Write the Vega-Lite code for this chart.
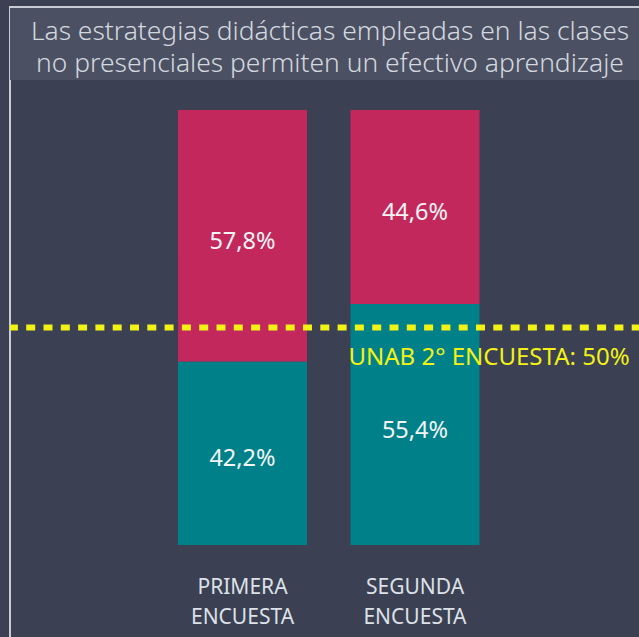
{
  "$schema": "https://vega.github.io/schema/vega-lite/v6.json",
  "autosize": {"type": "none"},
  "width": 640,
  "height": 640,
  "padding": {"left": 10, "top": 7, "right": 0, "bottom": 0},
  "background": "#3b4052",
  "config": {
    "view": {"stroke": "#c9ccd3", "strokeWidth": 2},
    "font": "Noto Sans"
  },
  "title": {
    "text": ["Las estrategias didácticas empleadas en las clases", "no presenciales permiten un efectivo aprendizaje"],
    "fontSize": 26.4,
    "fontWeight": 300,
    "color": "#d4d8df",
    "anchor": "middle",
    "frame": "group",
    "orient": "top",
    "offset": 0,
    "baseline": "alphabetic",
    "lineHeight": 32,
    "dy": 91
  },
  "data": {
    "values": [
      {"encuesta": "PRIMERA ENCUESTA", "serie": "De acuerdo", "orden": 1, "v": 0.422, "label": "42,2%"},
      {"encuesta": "PRIMERA ENCUESTA", "serie": "En desacuerdo", "orden": 2, "v": 0.578, "label": "57,8%"},
      {"encuesta": "SEGUNDA ENCUESTA", "serie": "De acuerdo", "orden": 1, "v": 0.554, "label": "55,4%"},
      {"encuesta": "SEGUNDA ENCUESTA", "serie": "En desacuerdo", "orden": 2, "v": 0.446, "label": "44,6%"}
    ]
  },
  "layer": [
    {
      "mark": {"type": "bar"},
      "encoding": {
        "x": {
          "field": "encuesta",
          "type": "nominal",
          "scale": {"range": [168, 469.5], "paddingInner": 0.252, "paddingOuter": 0},
          "axis": {
            "orient": "bottom",
            "offset": -102,
            "domain": false,
            "ticks": false,
            "grid": false,
            "title": null,
            "labelAngle": 0,
            "labelExpr": "split(datum.label, ' ')",
            "labelFontSize": 21,
            "labelColor": "#dde1e8",
            "labelLineHeight": 30,
            "labelPadding": 31.5,
            "labelBaseline": "top"
          }
        },
        "y": {
          "field": "v",
          "type": "quantitative",
          "stack": "zero",
          "scale": {"domain": [0, 1], "range": [538, 103], "nice": false},
          "axis": null
        },
        "color": {
          "field": "serie",
          "type": "nominal",
          "scale": {"domain": ["De acuerdo", "En desacuerdo"], "range": ["#00818a", "#c3285d"]},
          "legend": null
        },
        "order": {"field": "orden", "type": "quantitative"}
      }
    },
    {
      "transform": [{"filter": "datum.orden == 1 && datum.encuesta == 'PRIMERA ENCUESTA'"}],
      "mark": {"type": "rule", "color": "#4b5163", "strokeWidth": 72},
      "encoding": {
        "y": {"datum": 1.1517, "type": "quantitative"}
      }
    },
    {
      "transform": [
        {"stack": "v", "groupby": ["encuesta"], "sort": [{"field": "orden", "order": "ascending"}], "as": ["v0", "v1"]},
        {"calculate": "(datum.v0 + datum.v1) / 2", "as": "mid"}
      ],
      "mark": {"type": "text", "fontSize": 23.5, "color": "#f4f4f4", "baseline": "middle", "dy": 6},
      "encoding": {
        "x": {"field": "encuesta", "type": "nominal"},
        "y": {"field": "mid", "type": "quantitative"},
        "text": {"field": "label"}
      }
    },
    {
      "transform": [{"filter": "datum.orden == 1 && datum.encuesta == 'PRIMERA ENCUESTA'"}],
      "mark": {"type": "rule", "color": "#f2f214", "strokeWidth": 6, "strokeDash": [9, 8.3], "strokeDashOffset": 8},
      "encoding": {
        "y": {"datum": 0.5, "type": "quantitative"}
      }
    },
    {
      "transform": [{"filter": "datum.orden == 1 && datum.encuesta == 'SEGUNDA ENCUESTA'"}],
      "mark": {"type": "text", "align": "left", "baseline": "middle", "fontSize": 24, "dx": -2, "color": "#f2f214", "text": "UNAB 2° ENCUESTA: 50%"},
      "encoding": {
        "x": {"field": "encuesta", "type": "nominal", "bandPosition": 0},
        "y": {"datum": 0.43, "type": "quantitative"}
      }
    }
  ]
}
